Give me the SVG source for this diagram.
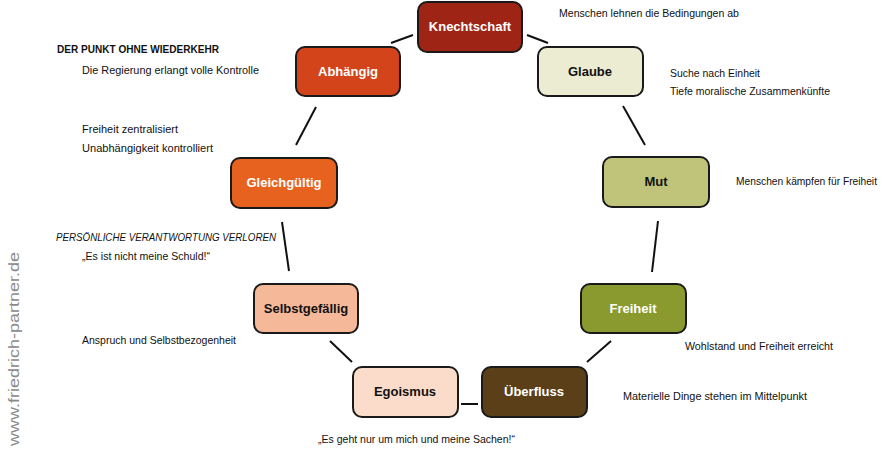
<svg xmlns="http://www.w3.org/2000/svg" width="885" height="454" viewBox="0 0 885 454">
<style>
.node rect{stroke:#1a1a1a;stroke-width:2;}
.lbl{font-family:"Liberation Sans",Arial,sans-serif;font-weight:bold;font-size:13px;text-anchor:middle;}
.w{fill:#ffffff;}
.b{fill:#111111;}
.note{font-family:"Liberation Sans",Arial,sans-serif;font-size:11.5px;fill:#111;}
.conn line{stroke:#111;stroke-width:2;}
</style>
<rect width="885" height="454" fill="#ffffff"/>
<g id="connectors" class="conn">
<line x1="391" y1="43" x2="413" y2="35"/>
<line x1="527" y1="35" x2="548" y2="43"/>
<line x1="316" y1="107" x2="296" y2="145"/>
<line x1="623" y1="106" x2="645" y2="145"/>
<line x1="282" y1="222" x2="289" y2="271"/>
<line x1="658" y1="221" x2="652" y2="272"/>
<line x1="330" y1="341" x2="352" y2="362"/>
<line x1="611" y1="341" x2="587" y2="362"/>
<line x1="461" y1="404" x2="478" y2="404"/>
</g>
<g id="knechtschaft" class="node"><rect x="418" y="2" width="104" height="50" rx="9" fill="#9E2416"/><text class="lbl w" x="470" y="31">Knechtschaft</text></g>
<g id="abhaengig" class="node"><rect x="296" y="47" width="104" height="49" rx="9" fill="#D4441A"/><text class="lbl w" x="348" y="76">Abhängig</text></g>
<g id="glaube" class="node"><rect x="538" y="47" width="105" height="49" rx="9" fill="#ECECD2"/><text class="lbl b" x="590" y="76">Glaube</text></g>
<g id="mut" class="node"><rect x="603" y="157" width="106" height="50" rx="9" fill="#BFC47A"/><text class="lbl b" x="656" y="186">Mut</text></g>
<g id="gleichgueltig" class="node"><rect x="231" y="158" width="106" height="50" rx="9" fill="#E8621F"/><text class="lbl w" x="284" y="187">Gleichgültig</text></g>
<g id="selbstgefaellig" class="node"><rect x="254" y="284" width="104" height="49" rx="9" fill="#F5B898"/><text class="lbl b" x="306" y="313">Selbstgefällig</text></g>
<g id="freiheit" class="node"><rect x="581" y="284" width="105" height="49" rx="9" fill="#8A9A2E"/><text class="lbl w" x="633" y="313">Freiheit</text></g>
<g id="egoismus" class="node"><rect x="353" y="367" width="105" height="50" rx="9" fill="#FBDCCB"/><text class="lbl b" x="405" y="396">Egoismus</text></g>
<g id="ueberfluss" class="node"><rect x="482" y="367" width="105" height="50" rx="9" fill="#5A3F18"/><text class="lbl w" x="534" y="396">Überfluss</text></g>
<g id="notes">
<text class="note" x="559" y="17" textLength="180" lengthAdjust="spacingAndGlyphs">Menschen lehnen die Bedingungen ab</text>
<text class="note" x="57" y="53" font-weight="bold" textLength="162" lengthAdjust="spacingAndGlyphs">DER PUNKT OHNE WIEDERKEHR</text>
<text class="note" x="82" y="74" textLength="177" lengthAdjust="spacingAndGlyphs">Die Regierung erlangt volle Kontrolle</text>
<text class="note" x="670" y="77" textLength="90" lengthAdjust="spacingAndGlyphs">Suche nach Einheit</text>
<text class="note" x="670" y="95" textLength="160" lengthAdjust="spacingAndGlyphs">Tiefe moralische Zusammenkünfte</text>
<text class="note" x="82" y="133" textLength="96" lengthAdjust="spacingAndGlyphs">Freiheit zentralisiert</text>
<text class="note" x="82" y="152" textLength="131" lengthAdjust="spacingAndGlyphs">Unabhängigkeit kontrolliert</text>
<text class="note" x="736" y="185" style="font-size:10.2px" textLength="141" lengthAdjust="spacingAndGlyphs">Menschen kämpfen für Freiheit</text>
<text class="note" x="56" y="241" font-style="italic" textLength="220" lengthAdjust="spacingAndGlyphs">PERSÖNLICHE VERANTWORTUNG VERLOREN</text>
<text class="note" x="82" y="260" textLength="128" lengthAdjust="spacingAndGlyphs">„Es ist nicht meine Schuld!“</text>
<text class="note" x="82" y="344" textLength="154" lengthAdjust="spacingAndGlyphs">Anspruch und Selbstbezogenheit</text>
<text class="note" x="685" y="350" textLength="148" lengthAdjust="spacingAndGlyphs">Wohlstand und Freiheit erreicht</text>
<text class="note" x="623" y="400" textLength="184" lengthAdjust="spacingAndGlyphs">Materielle Dinge stehen im Mittelpunkt</text>
<text class="note" x="318" y="443" textLength="197" lengthAdjust="spacingAndGlyphs">„Es geht nur um mich und meine Sachen!“</text>
<text x="19" y="446" transform="rotate(-90 19 446)" font-family="'Liberation Sans',Arial,sans-serif" font-size="15" fill="#8a8a8a" textLength="194" lengthAdjust="spacingAndGlyphs">www.friedrich-partner.de</text>
</g>
</svg>
